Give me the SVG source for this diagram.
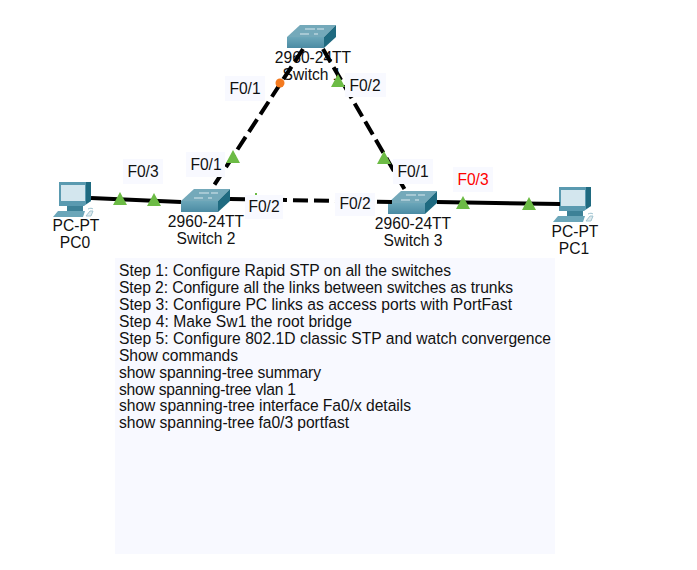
<svg xmlns="http://www.w3.org/2000/svg" width="697" height="570" viewBox="0 0 697 570">
<style>
text{font-family:"Liberation Sans",Arial,sans-serif;fill:#111}
.nl{font-size:15.6px;text-anchor:middle}
.pl{font-size:15.6px;text-anchor:middle}
.bg{fill:#f8f9ff}
.st{font-size:15.65px}
.dash{stroke:#000;stroke-width:4;stroke-dasharray:15 6;fill:none}
.solid{stroke:#000;stroke-width:4;fill:none}
.tri{fill:#6cbb45}
</style>
<defs>
<linearGradient id="front" x1="0" y1="0" x2="0" y2="1"><stop offset="0" stop-color="#6ba6b9"/><stop offset="1" stop-color="#4b8ba3"/></linearGradient>
<g id="sw">
<polygon points="0,0 13,-12 49,-12 37,0" fill="#74a9ba"/>
<polygon points="0,0 37,0 37,11 0,11" fill="url(#front)"/>
<polygon points="37,0 49,-12 49,0 37,11" fill="#1f6a80"/>
<path d="M18,-8h10M30,-8h7M13,-3h9M27,-3h4" stroke="#d8e8ee" stroke-width="1" fill="none"/>
</g>
<g id="pc">
<polygon points="6,0 38,0 38,19 31,24 6,24" fill="#5a9ab0"/>
<polygon points="33,0 38,0 38,19 33,22" fill="#1f6a80"/>
<rect x="8" y="3" width="24" height="16" fill="#d3e6ee"/>
<rect x="14" y="24" width="16" height="5" fill="#3d8197"/>
<polygon points="5,29 32,29 30,35 0,35" fill="#6ba6b9"/>
<path d="M35,27c2,-1 4,-1 5,0M33,34l4,-5h3l-2,5z" stroke="#9fc4d0" stroke-width="1" fill="#dfe9ed"/>
</g>
<polygon id="t" class="tri" points="0,-7 7,6 -7,6"/>
</defs>

<rect x="115" y="258" width="440" height="296" class="bg"/>

<g id="switch1">
<use href="#sw" x="287" y="37"/>
<text class="nl" x="313" y="63">2960-24TT</text>
<text class="nl" x="312" y="80">Switch 1</text>
</g>
<g id="switch2">
<use href="#sw" x="181" y="201"/>
<text class="nl" x="206" y="227">2960-24TT</text>
<text class="nl" x="206" y="244">Switch 2</text>
</g>
<g id="switch3">
<use href="#sw" x="388" y="203"/>
<text class="nl" x="413" y="229">2960-24TT</text>
<text class="nl" x="413" y="246">Switch 3</text>
</g>
<g id="pc0">
<use href="#pc" x="53" y="182"/>
<text class="pl" x="76" y="231">PC-PT</text>
<text class="pl" x="75" y="248">PC0</text>
</g>
<g id="pc1">
<use href="#pc" x="553" y="187"/>
<text class="pl" x="575" y="237">PC-PT</text>
<text class="pl" x="574" y="254">PC1</text>
</g>

<g id="connectors">
<line class="dash" x1="303" y1="49" x2="213" y2="187"/>
<line class="dash" x1="323" y1="49" x2="405" y2="190"/>
<line class="dash" x1="230" y1="199" x2="392" y2="202"/>
<line class="solid" x1="91" y1="198" x2="181" y2="202"/>
<line class="solid" x1="437" y1="202" x2="560" y2="204"/>
</g>

<g id="ports">
<rect class="bg" x="225" y="76" width="40" height="25"/><text class="pl" x="245" y="94">F0/1</text>
<rect class="bg" x="345" y="73" width="41" height="24"/><text class="pl" x="365" y="91">F0/2</text>
<rect class="bg" x="186" y="152" width="39" height="25"/><text class="pl" x="206" y="170">F0/1</text>
<rect class="bg" x="393" y="159" width="40" height="25"/><text class="pl" x="413" y="177">F0/1</text>
<rect class="bg" x="123" y="159" width="40" height="25"/><text class="pl" x="143" y="177">F0/3</text>
<rect class="bg" x="245" y="195" width="38" height="24"/><text class="pl" x="264" y="212">F0/2</text>
<rect class="bg" x="335" y="193" width="40" height="23"/><text class="pl" x="355" y="209">F0/2</text>
<rect class="bg" x="453" y="167" width="40" height="25"/><text class="pl" x="473" y="185" style="fill:#f00">F0/3</text>
<circle cx="280" cy="83" r="4.5" fill="#f47a1f"/>
<use href="#t" x="338" y="81"/>
<use href="#t" x="233" y="157"/>
<use href="#t" x="384" y="158"/>
<use href="#t" x="120" y="199"/>
<use href="#t" x="154" y="200"/>
<use href="#t" x="463" y="203"/>
<use href="#t" x="529" y="204"/>
<rect x="255" y="193" width="2" height="2" class="tri"/>
</g>

<g id="notes">
<text class="st" x="119" y="275.7" textLength="332">Step 1: Configure Rapid STP on all the switches</text>
<text class="st" x="119" y="292.7" textLength="394">Step 2: Configure all the links between switches as trunks</text>
<text class="st" x="119" y="309.6" textLength="393">Step 3: Configure PC links as access ports with PortFast</text>
<text class="st" x="119" y="326.6" textLength="233">Step 4: Make Sw1 the root bridge</text>
<text class="st" x="119" y="343.6" textLength="432">Step 5: Configure 802.1D classic STP and watch convergence</text>
<text class="st" x="119" y="360.5" textLength="119">Show commands</text>
<text class="st" x="119" y="377.5" textLength="202">show spanning-tree summary</text>
<text class="st" x="119" y="394.5" textLength="177">show spanning-tree vlan 1</text>
<text class="st" x="119" y="411.4" textLength="292">show spanning-tree interface Fa0/x details</text>
<text class="st" x="119" y="428.4" textLength="230">show spanning-tree fa0/3 portfast</text>
</g>
</svg>
